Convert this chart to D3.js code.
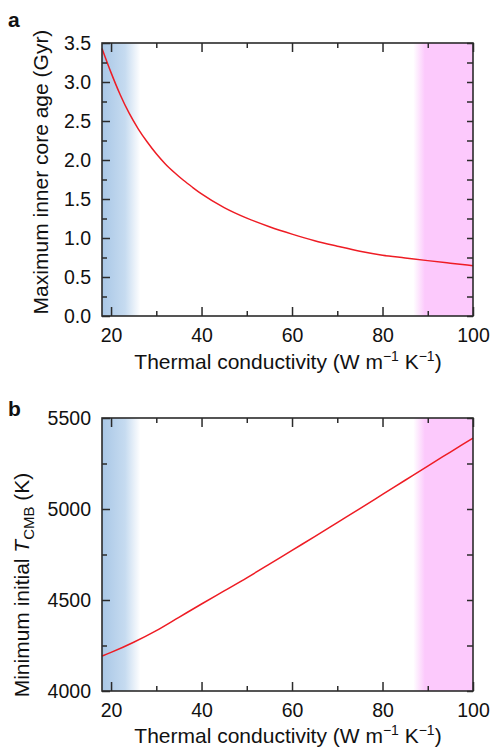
<!DOCTYPE html>
<html><head><meta charset="utf-8">
<script src="https://cdn.jsdelivr.net/npm/d3@7"></script>
<style>
html,body{margin:0;padding:0;background:#fff;}
svg{display:block;font-family:"Liberation Sans",Arial,Helvetica,sans-serif;}
</style></head>
<body>
<svg id="chart" width="490" height="750"></svg>
<script>
// ---- data ----
const conductivityA = [18,20,22,24,26,28,30,32,34,36,38,40,45,50,55,60,65,70,75,80,85,90,95,100];
const coreAge      = [3.43,3.12,2.84,2.60,2.40,2.23,2.08,1.95,1.84,1.74,1.65,1.565,1.39,1.255,1.145,1.05,0.965,0.895,0.83,0.78,0.745,0.71,0.677,0.645];
const conductivityB = [18,20,25,30,35,40,45,50,55,60,65,70,75,80,85,90,95,100];
const tcmb          = [4192,4212,4268,4332,4405,4478,4550,4622,4697,4773,4848,4925,5002,5080,5158,5236,5313,5390];
const xTicksMajor = [20,40,60,80,100];
const xTicksMinor = [30,50,70,90];
const yTicksA = [0,0.5,1.0,1.5,2.0,2.5,3.0,3.5];
const yTicksAMinor = [0.25,0.75,1.25,1.75,2.25,2.75,3.25];
const yTicksB = [4000,4500,5000,5500];
const yTicksBMinor = [4250,4750,5250];
const blueBand = [18, 26.5];
const pinkBand = [86.8, 89.4, 100];
const xDomain = [18,100];

const svg = d3.select("#chart");
const defs = svg.append("defs");
const gb = defs.append("linearGradient").attr("id","blueG").attr("x1","0").attr("x2","1").attr("y1","0").attr("y2","0");
gb.append("stop").attr("offset","0").attr("stop-color","#a9c7e6");
gb.append("stop").attr("offset","0.6").attr("stop-color","#c6dbf0");
gb.append("stop").attr("offset","1").attr("stop-color","#ffffff");
const gp = defs.append("linearGradient").attr("id","pinkG").attr("x1","0").attr("x2","1").attr("y1","0").attr("y2","0");
gp.append("stop").attr("offset","0").attr("stop-color","#ffffff");
gp.append("stop").attr("offset","1").attr("stop-color","#fcc9fc");

const L = 102, R = 473;
const x = d3.scaleLinear().domain(xDomain).range([L,R]);
const axisColor = "#2b2b2b";
const tickFont = 19.5, titleFont = 21;

function panel(top, bottom, yDomain, yMaj, yMin, yFmt, xs, ys, letter, ylabelFn, ylabelX, ylabelY, xTitleY, letterY) {
  const y = d3.scaleLinear().domain(yDomain).range([bottom, top]);
  const g = svg.append("g");
  // bands
  g.append("rect").attr("x", x(blueBand[0])).attr("y", top).attr("width", x(blueBand[1]) - x(blueBand[0])).attr("height", bottom-top).attr("fill","url(#blueG)");
  g.append("rect").attr("x", x(pinkBand[0])).attr("y", top).attr("width", x(pinkBand[1]) - x(pinkBand[0])).attr("height", bottom-top).attr("fill","url(#pinkG)");
  g.append("rect").attr("x", x(pinkBand[1])-0.3).attr("y", top).attr("width", x(pinkBand[2]) - x(pinkBand[1])+0.3).attr("height", bottom-top).attr("fill","#fcc9fc");
  // line
  const line = d3.line().x((d,i)=>x(xs[i])).y((d,i)=>y(ys[i])).curve(d3.curveMonotoneX);
  g.append("path").datum(ys).attr("d", line).attr("fill","none").attr("stroke","#ee1c24").attr("stroke-width",1.5);

  // axes with inward ticks
  g.append("g").attr("transform",`translate(0,${bottom})`)
    .call(d3.axisBottom(x).tickValues(xTicksMajor).tickSize(-9).tickPadding(12).tickFormat(d3.format("d")));
  g.append("g").attr("transform",`translate(0,${bottom})`)
    .call(d3.axisBottom(x).tickValues(xTicksMinor).tickSize(-5).tickFormat(""));
  g.append("g").attr("transform",`translate(0,${top})`)
    .call(d3.axisTop(x).tickValues(xTicksMajor).tickSize(-9).tickFormat(""));
  g.append("g").attr("transform",`translate(0,${top})`)
    .call(d3.axisTop(x).tickValues(xTicksMinor).tickSize(-5).tickFormat(""));
  g.append("g").attr("transform",`translate(${L},0)`)
    .call(d3.axisLeft(y).tickValues(yMaj).tickSize(-8).tickPadding(11).tickFormat(yFmt));
  g.append("g").attr("transform",`translate(${L},0)`)
    .call(d3.axisLeft(y).tickValues(yMin).tickSize(-5).tickFormat(""));
  g.append("g").attr("transform",`translate(${R},0)`)
    .call(d3.axisRight(y).tickValues(yMaj).tickSize(-6).tickFormat(""));
  g.append("g").attr("transform",`translate(${R},0)`)
    .call(d3.axisRight(y).tickValues(yMin).tickSize(-6).tickFormat(""));
  g.selectAll(".domain").remove();
  g.selectAll(".tick line").attr("stroke",axisColor).attr("stroke-width",1.5);
  g.selectAll(".tick text").attr("font-size",tickFont).attr("fill","#111").attr("font-family","Liberation Sans, Arial, sans-serif");
  // frame
  g.append("rect").attr("x",L).attr("y",top).attr("width",R-L).attr("height",bottom-top)
    .attr("fill","none").attr("stroke",axisColor).attr("stroke-width",1.6);

  // x title
  const xt = g.append("text").attr("x", 288).attr("y", xTitleY).attr("text-anchor","middle")
    .attr("font-size",titleFont).attr("fill","#111");
  xt.append("tspan").text("Thermal conductivity (W m");
  xt.append("tspan").attr("dy",-8).attr("font-size",14).text("\u22121");
  xt.append("tspan").attr("dy",8).text(" K");
  xt.append("tspan").attr("dy",-8).attr("font-size",14).text("\u22121");
  xt.append("tspan").attr("dy",8).text(")");

  // y title
  const yt = g.append("text").attr("transform",`translate(${ylabelX},${ylabelY}) rotate(-90)`)
    .attr("text-anchor","middle").attr("font-size",titleFont).attr("fill","#111");
  ylabelFn(yt);

  // panel letter
  g.append("text").attr("x",8).attr("y",letterY).attr("font-size",21).attr("font-weight","bold").attr("fill","#111").text(letter);
}

panel(43, 316, [0,3.5], yTicksA, yTicksAMinor, d3.format(".1f"), conductivityA, coreAge, "a",
  t => t.text("Maximum inner core age (Gyr)"), 48, 172, 369, 27);

panel(418, 691, [4000,5500], yTicksB, yTicksBMinor, d3.format("d"), conductivityB, tcmb, "b",
  t => {
    t.append("tspan").text("Minimum initial ");
    t.append("tspan").attr("font-style","italic").text("T");
    t.append("tspan").attr("font-size",15).attr("dy",5).text("CMB");
    t.append("tspan").attr("dy",-5).text(" (K)");
  }, 29, 585, 743, 416);
</script>
</body></html>
